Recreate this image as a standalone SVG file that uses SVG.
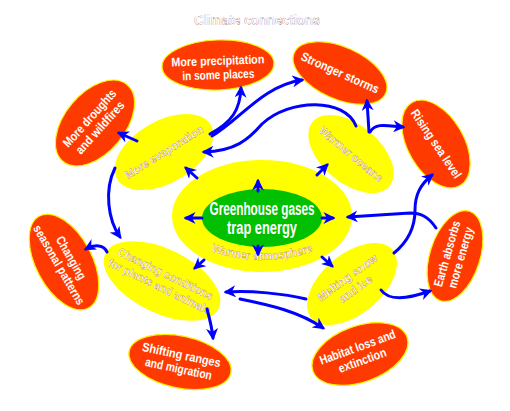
<svg xmlns="http://www.w3.org/2000/svg" width="510" height="411" viewBox="0 0 510 411">
<defs>
<style>
.red{fill:#ff3a00;stroke:#ffee00;stroke-width:1.2}
.yel{fill:#ffff00}
.grn{fill:#00c000}
.t{font-family:"Liberation Sans Narrow","Liberation Sans",Arial,sans-serif;font-weight:bold;fill:#fff;text-anchor:middle;font-size:12.5px}
.ty{font-family:"Liberation Sans Narrow","Liberation Sans",Arial,sans-serif;font-weight:bold;fill:#fff;text-anchor:middle;stroke:#a04000;stroke-width:0.25;font-size:11.5px}
.c{fill:none;stroke:#0000ff;stroke-width:3;stroke-linecap:round;marker-end:url(#ah)}
</style>
<marker id="ah" viewBox="0 0 10 10" refX="8" refY="5" markerWidth="12" markerHeight="12" markerUnits="userSpaceOnUse" orient="auto">
<path d="M0,0 L10,5 L0,10 L3,5 z" fill="#0000ff"/>
</marker>
</defs>
<rect width="510" height="411" fill="#fff"/>
<text class="ty" x="257" y="25" style="font-size:15px;stroke:#600000;stroke-width:0.2" textLength="126" lengthAdjust="spacingAndGlyphs">Climate connections</text>

<g id="center">
<ellipse class="yel" cx="262" cy="216" rx="90" ry="56"/>
<ellipse class="grn" cx="262" cy="218" rx="60" ry="29"/>
<text class="t" x="262" y="215" style="font-size:18px" textLength="105" lengthAdjust="spacingAndGlyphs">Greenhouse gases</text>
<text class="t" x="262" y="234" style="font-size:18px" textLength="70" lengthAdjust="spacingAndGlyphs">trap energy</text>
<path id="arcW" d="M208,250 Q262,270 316,250" fill="none"/>
<text class="ty"><textPath href="#arcW" startOffset="50%" textLength="104" lengthAdjust="spacingAndGlyphs">Warmer atmosphere</textPath></text>
</g>

<g id="evaporation">
<ellipse class="yel" cx="164" cy="152" rx="54" ry="31" transform="rotate(-30 164 152)"/>
<text class="ty" x="164" y="156" transform="rotate(-32 164 152)" textLength="90" lengthAdjust="spacingAndGlyphs">More evaporation</text>
</g>
<g id="oceans">
<ellipse class="yel" cx="351" cy="154" rx="50" ry="29" transform="rotate(40 351 154)"/>
<text class="ty" x="351" y="158" transform="rotate(40 351 154)" textLength="79" lengthAdjust="spacingAndGlyphs">Warmer oceans</text>
</g>
<g id="conditions">
<ellipse class="yel" cx="162" cy="281" rx="63" ry="32" transform="rotate(26 162 281)"/>
<text class="ty" x="162" y="277" transform="rotate(26 162 281)" textLength="104" lengthAdjust="spacingAndGlyphs">Changing conditions</text>
<text class="ty" x="162" y="291" transform="rotate(26 162 281)" textLength="112" lengthAdjust="spacingAndGlyphs">for plants and animals</text>
</g>
<g id="melting">
<ellipse class="yel" cx="352" cy="284" rx="53" ry="30" transform="rotate(-40 352 284)"/>
<text class="ty" x="352" y="280" transform="rotate(-36 352 284)" textLength="71" lengthAdjust="spacingAndGlyphs">Melting snow</text>
<text class="ty" x="352" y="294" transform="rotate(-36 352 284)" textLength="38" lengthAdjust="spacingAndGlyphs">and ice</text>
</g>

<g id="droughts">
<ellipse class="red" cx="95" cy="123" rx="50" ry="30" transform="rotate(-50 95 123)"/>
<text class="t" x="95" y="120" transform="rotate(-48 95 123)" textLength="73" lengthAdjust="spacingAndGlyphs">More droughts</text>
<text class="t" x="95" y="134" transform="rotate(-48 95 123)" textLength="66" lengthAdjust="spacingAndGlyphs">and wildfires</text>
</g>
<g id="precipitation">
<ellipse class="red" cx="218" cy="65" rx="56" ry="25" transform="rotate(-2 218 65)"/>
<text class="t" x="218" y="65" transform="rotate(-2 218 65)" textLength="93" lengthAdjust="spacingAndGlyphs">More precipitation</text>
<text class="t" x="218" y="79" transform="rotate(-2 218 65)" textLength="72" lengthAdjust="spacingAndGlyphs">in some places</text>
</g>
<g id="storms">
<ellipse class="red" cx="340" cy="73" rx="50" ry="26" transform="rotate(24 340 73)"/>
<text class="t" x="340" y="77" transform="rotate(24 340 73)" textLength="84" lengthAdjust="spacingAndGlyphs">Stronger storms</text>
</g>
<g id="sealevel">
<ellipse class="red" cx="436" cy="144" rx="48" ry="28" transform="rotate(60 436 144)"/>
<text class="t" x="436" y="148" transform="rotate(56 436 144)" textLength="80" lengthAdjust="spacingAndGlyphs">Rising sea level</text>
</g>
<g id="absorbs">
<ellipse class="red" cx="455" cy="256" rx="47" ry="25" transform="rotate(-72 455 256)"/>
<text class="t" x="455" y="252" transform="rotate(-74 455 256)" textLength="68" lengthAdjust="spacingAndGlyphs">Earth absorbs</text>
<text class="t" x="455" y="266" transform="rotate(-74 455 256)" textLength="63" lengthAdjust="spacingAndGlyphs">more energy</text>
</g>
<g id="seasonal">
<ellipse class="red" cx="64" cy="262" rx="52" ry="28" transform="rotate(62 64 262)"/>
<text class="t" x="64" y="258" transform="rotate(60 64 262)" textLength="48" lengthAdjust="spacingAndGlyphs">Changing</text>
<text class="t" x="64" y="272" transform="rotate(60 64 262)" textLength="90" lengthAdjust="spacingAndGlyphs">seasonal patterns</text>
</g>
<g id="shifting">
<ellipse class="red" cx="180" cy="362" rx="52" ry="26" transform="rotate(12 180 362)"/>
<text class="t" x="180" y="359" transform="rotate(12 180 362)" textLength="80" lengthAdjust="spacingAndGlyphs">Shifting ranges</text>
<text class="t" x="180" y="373" transform="rotate(12 180 362)" textLength="68" lengthAdjust="spacingAndGlyphs">and migration</text>
</g>
<g id="habitat">
<ellipse class="red" cx="360" cy="354" rx="50" ry="28" transform="rotate(-20 360 354)"/>
<text class="t" x="360" y="351" transform="rotate(-20 360 354)" textLength="80" lengthAdjust="spacingAndGlyphs">Habitat loss and</text>
<text class="t" x="360" y="365" transform="rotate(-20 360 354)" textLength="50" lengthAdjust="spacingAndGlyphs">extinction</text>
</g>

<g id="connectors">
<path class="c" d="M258,191 L258,181"/>
<path class="c" d="M258,246 L258,254"/>
<path class="c" d="M202,218 L186,218"/>
<path class="c" d="M322,218 L333,218"/>
<path class="c" d="M197,178 L186,168"/>
<path class="c" d="M317,175 L327,165"/>
<path class="c" d="M204,260 L195,268"/>
<path class="c" d="M322,257 L332,266"/>
<path class="c" d="M137,141 L119,133"/>
<path class="c" d="M210,134 C232,122 240,110 241,88"/>
<path class="c" d="M212,136 C240,120 262,86 302,80"/>
<path class="c" d="M356,126 C345,98 290,98 262,124 C248,140 235,151 204,152"/>
<path class="c" d="M369,132 L367,101"/>
<path class="c" d="M370,132 C376,122 388,126 403,127"/>
<path class="c" d="M394,253 C410,240 415,225 415,210 C415,195 420,185 432,175"/>
<path class="c" d="M436,228 C428,216 420,213 410,213 L348,217"/>
<path class="c" d="M381,290 C388,300 405,300 430,291"/>
<path class="c" d="M306,299 C285,294 250,290 226,292"/>
<path class="c" d="M207,309 C210,320 212,328 213,338"/>
<path class="c" d="M240,299 C270,305 300,312 323,328"/>
<path class="c" d="M115,168 C104,190 108,220 120,237"/>
<path class="c" d="M107,252 C104,245 95,244 86,249"/>
</g>
</svg>
